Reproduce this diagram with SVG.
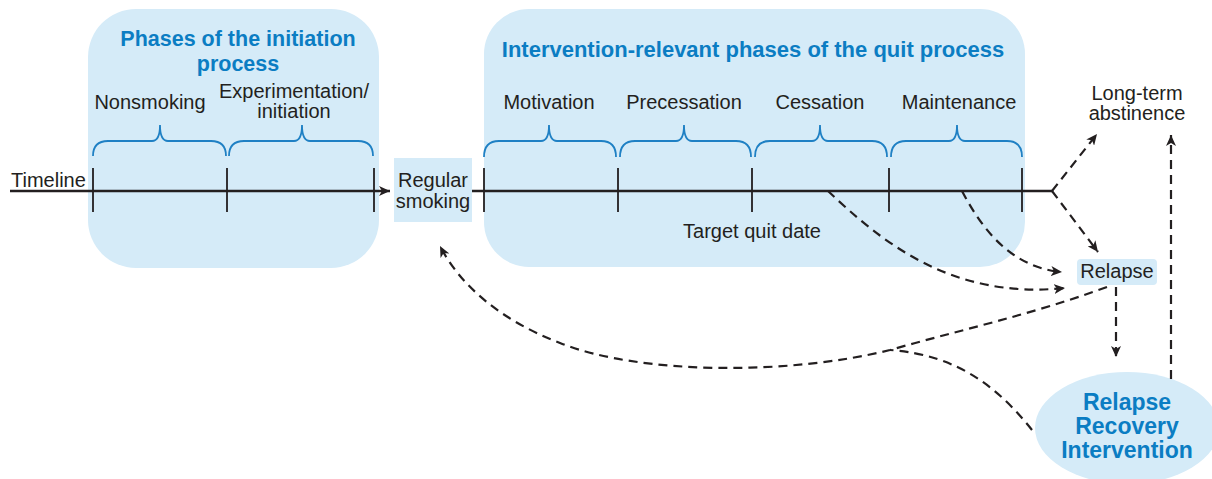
<svg xmlns="http://www.w3.org/2000/svg" width="1212" height="479" viewBox="0 0 1212 479">
  <style>
    .panel { fill: #d5ebf8; }
    .lbl { font-family: "Liberation Sans", Arial, sans-serif; font-size: 20px; fill: #231f20; }
    .ttl { font-family: "Liberation Sans", Arial, sans-serif; font-size: 22px; font-weight: bold; fill: #0b7dc3; }
    .ttl2 { font-family: "Liberation Sans", Arial, sans-serif; font-size: 21.5px; font-weight: bold; fill: #0b7dc3; }
    .big { font-family: "Liberation Sans", Arial, sans-serif; font-size: 23px; font-weight: bold; fill: #0b7dc3; }
    .brace { fill: none; stroke: #1f80c4; stroke-width: 1.8; }
    .axis { fill: none; stroke: #231f20; stroke-width: 2.5; }
    .tick { fill: none; stroke: #231f20; stroke-width: 1.8; }
    .dash { fill: none; stroke: #231f20; stroke-width: 2.2; stroke-dasharray: 9 6; }
  </style>
  <defs>
    <marker id="head" markerUnits="userSpaceOnUse" markerWidth="12" markerHeight="10" refX="11" refY="5" orient="auto">
      <path d="M0,0 L11,5 L0,10 L3,5 z" fill="#231f20"/>
    </marker>
  </defs>

  <!-- initiation panel -->
  <g id="initiation">
    <rect class="panel" x="88" y="9" width="291" height="259" rx="48"/>
    <text class="ttl2" x="238" y="46" text-anchor="middle">Phases of the initiation</text>
    <text class="ttl2" x="238" y="70.5" text-anchor="middle">process</text>
    <text class="lbl" x="150" y="109" text-anchor="middle">Nonsmoking</text>
    <text class="lbl" x="294" y="98" text-anchor="middle">Experimentation/</text>
    <text class="lbl" x="294" y="118" text-anchor="middle">initiation</text>
    <path class="brace" d="M93,156 Q93,141 108,141 L152,141 Q160,141 160,125 Q160,141 168,141 L211,141 Q226,141 226,156"/>
    <path class="brace" d="M229,156 Q229,141 244,141 L294,141 Q302,141 302,125 Q302,141 310,141 L358,141 Q373,141 373,156"/>
  </g>

  <!-- quit process panel -->
  <g id="quit-process">
    <rect class="panel" x="484" y="9" width="541" height="258" rx="45"/>
    <text class="ttl" x="753" y="57" text-anchor="middle">Intervention-relevant phases of the quit process</text>
    <text class="lbl" x="549" y="109" text-anchor="middle">Motivation</text>
    <text class="lbl" x="684" y="109" text-anchor="middle">Precessation</text>
    <text class="lbl" x="820" y="109" text-anchor="middle">Cessation</text>
    <text class="lbl" x="959" y="109" text-anchor="middle">Maintenance</text>
    <text class="lbl" x="752" y="238" text-anchor="middle">Target quit date</text>
    <path class="brace" d="M484,157 Q484,141 499,141 L541,141 Q549,141 549,125 Q549,141 557,141 L601,141 Q616,141 616,157"/>
    <path class="brace" d="M620,157 Q620,141 635,141 L676,141 Q684,141 684,125 Q684,141 692,141 L736,141 Q751,141 751,157"/>
    <path class="brace" d="M755,157 Q755,141 770,141 L812,141 Q820,141 820,125 Q820,141 828,141 L872,141 Q887,141 887,157"/>
    <path class="brace" d="M891,157 Q891,141 906,141 L949,141 Q957,141 957,125 Q957,141 965,141 L1007,141 Q1022,141 1022,157"/>
  </g>

  <g id="regular-smoking">
    <rect class="panel" x="394" y="158" width="78" height="64"/>
    <text class="lbl" x="433" y="187" text-anchor="middle">Regular</text>
    <text class="lbl" x="433" y="208" text-anchor="middle">smoking</text>
  </g>

  <g id="long-term-abstinence">
    <text class="lbl" x="1137" y="100" text-anchor="middle">Long-term</text>
    <text class="lbl" x="1137" y="120" text-anchor="middle">abstinence</text>
  </g>

  <g id="relapse">
    <rect class="panel" x="1077" y="259" width="80" height="26" rx="4"/>
    <text class="lbl" x="1117" y="278" text-anchor="middle">Relapse</text>
  </g>

  <g id="relapse-recovery-intervention">
    <ellipse class="panel" cx="1127" cy="428" rx="92" ry="56"/>
    <text class="big" x="1127" y="410" text-anchor="middle">Relapse</text>
    <text class="big" x="1127" y="434" text-anchor="middle">Recovery</text>
    <text class="big" x="1127" y="458" text-anchor="middle">Intervention</text>
  </g>

  <!-- timeline -->
  <g id="timeline">
    <text class="lbl" x="11" y="187">Timeline</text>
    <line class="axis" x1="10" y1="191" x2="390" y2="191" marker-end="url(#head)"/>
    <line class="axis" x1="472" y1="191" x2="1052" y2="191"/>
    <path class="tick" d="M93,168 V212 M227,168 V212 M374,168 V212 M484,168 V212 M618,168 V212 M752,168 V212 M889,168 V212 M1022,168 V212"/>
  </g>

  <!-- connectors -->
  <g id="connectors">
    <path class="dash" d="M1052,191 L1097,134" marker-end="url(#head)"/>
    <path class="dash" d="M1052,191 L1098,252" marker-end="url(#head)"/>
    <path class="dash" d="M828,191 C880,240 950,300 1065,288" marker-end="url(#head)"/>
    <path class="dash" d="M962,191 C985,235 1015,268 1062,272" marker-end="url(#head)"/>
    <path class="dash" d="M1116,287 V357" marker-end="url(#head)"/>
    <path class="dash" d="M1171,379 V135" marker-end="url(#head)"/>
    <path class="dash" d="M1107,287 C1030,315 960,330 890,350 C790,375 640,375 560,343 C500,320 460,285 440,246" marker-end="url(#head)"/>
    <path class="dash" d="M1032,430 C1000,390 960,355 890,350"/>
  </g>
</svg>
